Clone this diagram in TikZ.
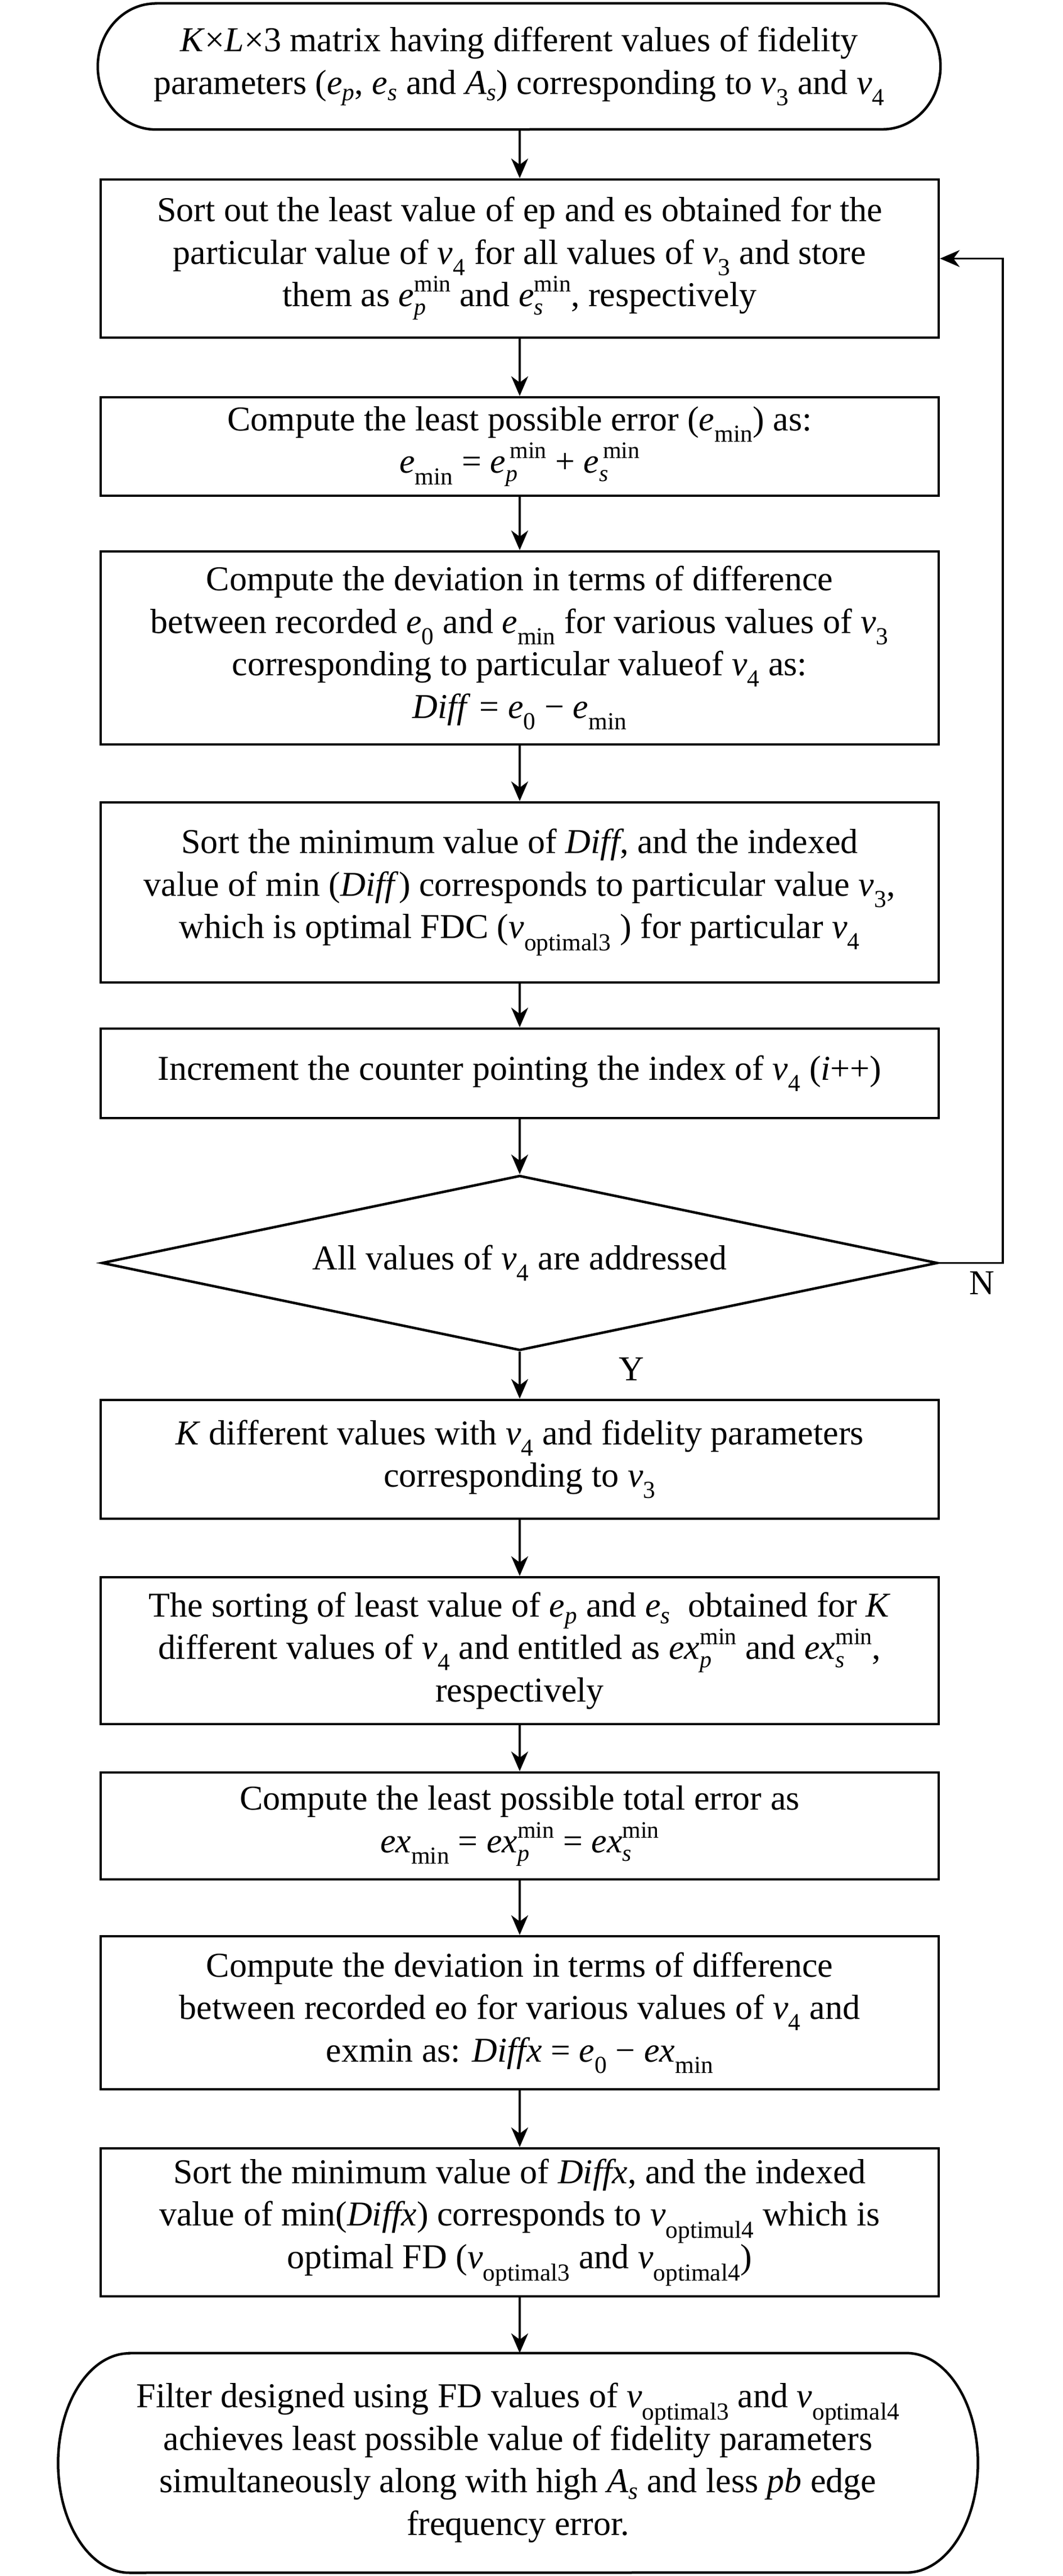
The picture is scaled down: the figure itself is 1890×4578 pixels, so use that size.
\documentclass[tikz,border=0pt]{standalone}
\usepackage{fontspec}
\setmainfont{Liberation Serif}
\usetikzlibrary{shapes.geometric,arrows.meta}
\newcommand\supsub[2]{\ooalign{\raisebox{0.42em}{\fontsize{42}{42}\selectfont #1}\cr\raisebox{-0.24em}{\fontsize{42}{42}\selectfont #2}\cr}}
\newcommand\vv[1]{\textit{v}\textsubscript{#1}}
\newcommand\ee[1]{\textit{e}\textsubscript{#1}}
\begin{document}
\begin{tikzpicture}[x=1pt,y=-1pt,
  font=\fontsize{62}{75.5}\selectfont,
  box/.style={draw, line width=4.5pt, rectangle, minimum width=1490pt, align=center, inner sep=0pt},
  term/.style={rectangle, align=center, inner sep=0pt},
  dec/.style={draw, line width=4.5pt, diamond, aspect=4.8, inner sep=0pt, minimum width=1486pt, minimum height=311pt, align=center},
  arr/.style={line width=3.5pt, -{Stealth[length=35pt,width=30pt,inset=11pt]}},
  lbl/.style={inner sep=0pt},
  border/.style={line width=4.5pt}
]
\path[use as bounding box] (0,0) rectangle (1890,4578);

% start terminal
\node[term, minimum width=1498pt, minimum height=224pt] (t1) at (923,118)
  {\textit{K}×\textit{L}×3 matrix having different values of fidelity\\
   parameters (\ee{\textit{p}}, \ee{\textit{s}} and \textit{A}\textsubscript{\textit{s}}) corresponding to \vv{3} and \vv{4}};
\draw[border] ([xshift=103pt]t1.north west) -- ([xshift=-103pt]t1.north east)
  arc[start angle=90,end angle=-90,x radius=103pt,y radius=112pt]
  -- ([xshift=103pt]t1.south west)
  arc[start angle=270,end angle=90,x radius=103pt,y radius=112pt] -- cycle;

\node[box, minimum height=281pt] (b2) at (924,459.5)
  {Sort out the least value of ep and es obtained for the\\
   particular value of \vv{4} for all values of \vv{3} and store\\
   them as \textit{e}\supsub{min}{\textit{p}} and \textit{e}\supsub{min}{\textit{s}}, respectively};

\node[box, minimum height=175pt] (b3) at (924,793.5)
  {Compute the least possible error (\ee{min}) as:\\
   \ee{min} = \textit{e}\supsub{\,min}{\textit{p}} + \textit{e}\supsub{\,min}{\textit{s}}};

\node[box, minimum height=343pt] (b4) at (924,1151.5)
  {Compute the deviation in terms of difference\\
   between recorded \ee{0} and \ee{min} for various values of \vv{3}\\
   corresponding to particular valueof \vv{4} as:\\
   \textit{Diff} = \ee{0} − \ee{min}};

\node[box, minimum height=320pt] (b5) at (924,1586)
  {Sort the minimum value of \textit{Diff}, and the indexed\\
   value of min (\textit{Diff}) corresponds to particular value \vv{3},\\
   which is optimal FDC (\vv{optimal3} ) for particular \vv{4}};

\node[box, minimum height=159pt] (b6) at (924,1907.5)
  {Increment the counter pointing the index of \vv{4} (\textit{i}++)};

\node[dec] (d) at (924,2244.5) {All values of \vv{4} are addressed};

\node[box, minimum height=211pt] (b7) at (924,2593.5)
  {\textit{K} different values with \vv{4} and fidelity parameters\\
   corresponding to \vv{3}};

\node[box, minimum height=261pt] (b8) at (924,2933.5)
  {The sorting of least value of \ee{\textit{p}} and \ee{\textit{s}}\ \ obtained for \textit{K}\\
   different values of \vv{4} and entitled as \textit{ex}\supsub{min}{\textit{p}} and \textit{ex}\supsub{min}{\textit{s}},\\
   respectively};

\node[box, minimum height=190pt] (b9) at (924,3245)
  {Compute the least possible total error as\\
   \textit{ex}\textsubscript{min} = \textit{ex}\supsub{min}{\textit{p}} = \textit{ex}\supsub{min}{\textit{s}}};

\node[box, minimum height=272pt] (b10) at (924,3577)
  {Compute the deviation in terms of difference\\
   between recorded eo for various values of \vv{4} and\\
   exmin as: \textit{Diffx} = \ee{0} − \textit{ex}\textsubscript{min}};

\node[box, minimum height=263pt] (b11) at (924,3949.5)
  {Sort the minimum value of \textit{Diffx}, and the indexed\\
   value of min(\textit{Diffx}) corresponds to \vv{optimul4} which is\\
   optimal FD (\vv{optimal3} and \vv{optimal4})};

% end terminal
\node[term, minimum width=1635pt, minimum height=390pt] (t2) at (921,4377)
  {Filter designed using FD values of \vv{optimal3} and \vv{optimal4}\\
   achieves least possible value of fidelity parameters\\
   simultaneously along with high \textit{A}\textsubscript{\textit{s}} and less \textit{pb} edge\\
   frequency error.};
\draw[border] ([xshift=127pt]t2.north west) -- ([xshift=-127pt]t2.north east)
  arc[start angle=90,end angle=-90,x radius=127pt,y radius=195pt]
  -- ([xshift=127pt]t2.south west)
  arc[start angle=270,end angle=90,x radius=127pt,y radius=195pt] -- cycle;

% labels
\node[lbl] (nlab) at (1746,2280) {N};
\node[lbl] (ylab) at (1123,2433) {Y};

% connectors
\coordinate (fb) at (1783,0);
\draw[arr] (t1.south -| b2.north) -- (b2.north);
\draw[arr] (b2.south) -- (b3.north);
\draw[arr] (b3.south) -- (b4.north);
\draw[arr] (b4.south) -- (b5.north);
\draw[arr] (b5.south) -- (b6.north);
\draw[arr] (b6.south) -- (d.north);
\draw[arr] (d.south) -- (b7.north);
\draw[arr] (b7.south) -- (b8.north);
\draw[arr] (b8.south) -- (b9.north);
\draw[arr] (b9.south) -- (b10.north);
\draw[arr] (b10.south) -- (b11.north);
\draw[arr] (b11.south) -- (b11.south |- t2.north);
\draw[arr] (d.east) -| (fb |- b2.east) -- (b2.east);
\end{tikzpicture}
\end{document}
